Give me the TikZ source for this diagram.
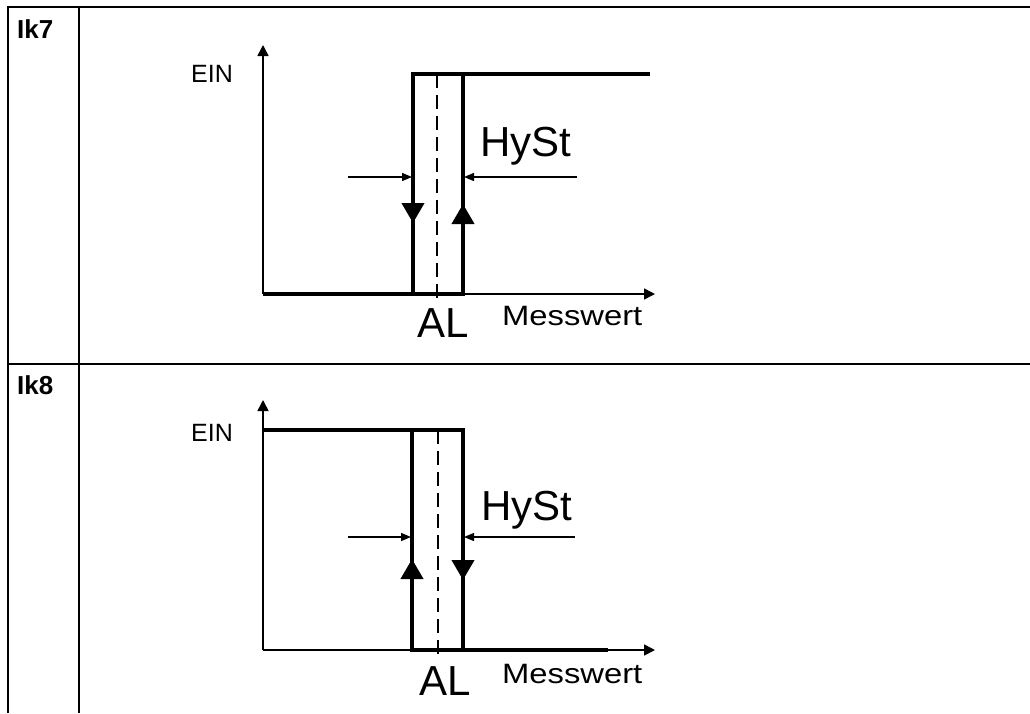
\documentclass[tikz,border=0pt]{standalone}
\usepackage{fontspec}
\setmainfont{Liberation Sans}
\usepackage{graphicx}
\usetikzlibrary{arrows.meta}
\tikzset{
    tab/.style={line width=2pt},
    axis/.style={line width=1.6pt, -{Triangle[length=11pt,width=11pt]}},
    curve/.style={line width=4pt, line join=miter},
    midtip/.style={line width=4pt, -{Triangle[length=20pt,width=22pt]}},
    dimline/.style={line width=1.3pt, -{Triangle[length=10pt,width=8pt]}},
    alline/.style={line width=1.2pt, dash pattern=on 14pt off 7pt},
    rowlab/.style={font=\fontsize{26}{30}\selectfont\bfseries, anchor=base west, inner sep=0pt},
    ein/.style={font=\fontsize{25}{30}\selectfont, anchor=base, inner sep=0pt},
    big/.style={font=\fontsize{42}{48}\selectfont, anchor=base, inner sep=0pt},
    mess/.style={font=\fontsize{28}{32}\selectfont, anchor=base west, inner sep=0pt}
}
\begin{document}
\begin{tikzpicture}[x=1pt, y=-1pt]
    \useasboundingbox (0,0) rectangle (1030,713);

    \draw[tab] (8,713) -- (8,7) -- (1030,7);
    \draw[tab] (79,7) -- (79,713);
    \draw[tab] (8,364) -- (1030,364);
    \node[rowlab] (ik7) at (17,38) {Ik7};
    \node[rowlab] (ik8) at (17,394) {Ik8};

    % Ik7
    \draw[axis] (263,294) -- (263,45);
    \draw[axis] (263,294) -- (655,294);
    \draw[curve] (263,294) -| (463,74) -- (650,74);
    \draw[curve] (413,294) |- (463,74);
    \draw[alline] (437,74) -- (437,300);
    \draw[midtip] (413,190) -- (413,223);
    \draw[midtip] (463,237) -- (463,204);
    \draw[dimline] (348,177) -- (412,177);
    \draw[dimline] (577,177) -- (464,177);
    \node[ein] (einA) at (212,82) {EIN};
    \node[big] (hystA) at (526,156) {HySt};
    \node[big] (alA) at (443,337) {AL};
    \node[mess] (messA) at (502,325) {\scalebox{1.17}[1]{Messwert}};

    % Ik8
    \draw[axis] (263,650) -- (263,400);
    \draw[axis] (263,650) -- (655,650);
    \draw[curve] (263,430) -| (412,650) -- (608,650);
    \draw[curve] (463,650) |- (412,430);
    \draw[alline] (438,430) -- (438,657);
    \draw[midtip] (412,593) -- (412,559);
    \draw[midtip] (463,546) -- (463,580);
    \draw[dimline] (348,537) -- (411,537);
    \draw[dimline] (575,537) -- (464,537);
    \node[ein] (einB) at (212,441) {EIN};
    \node[big] (hystB) at (527,520) {HySt};
    \node[big] (alB) at (445,695) {AL};
    \node[mess] (messB) at (502,683) {\scalebox{1.17}[1]{Messwert}};
\end{tikzpicture}
\end{document}
